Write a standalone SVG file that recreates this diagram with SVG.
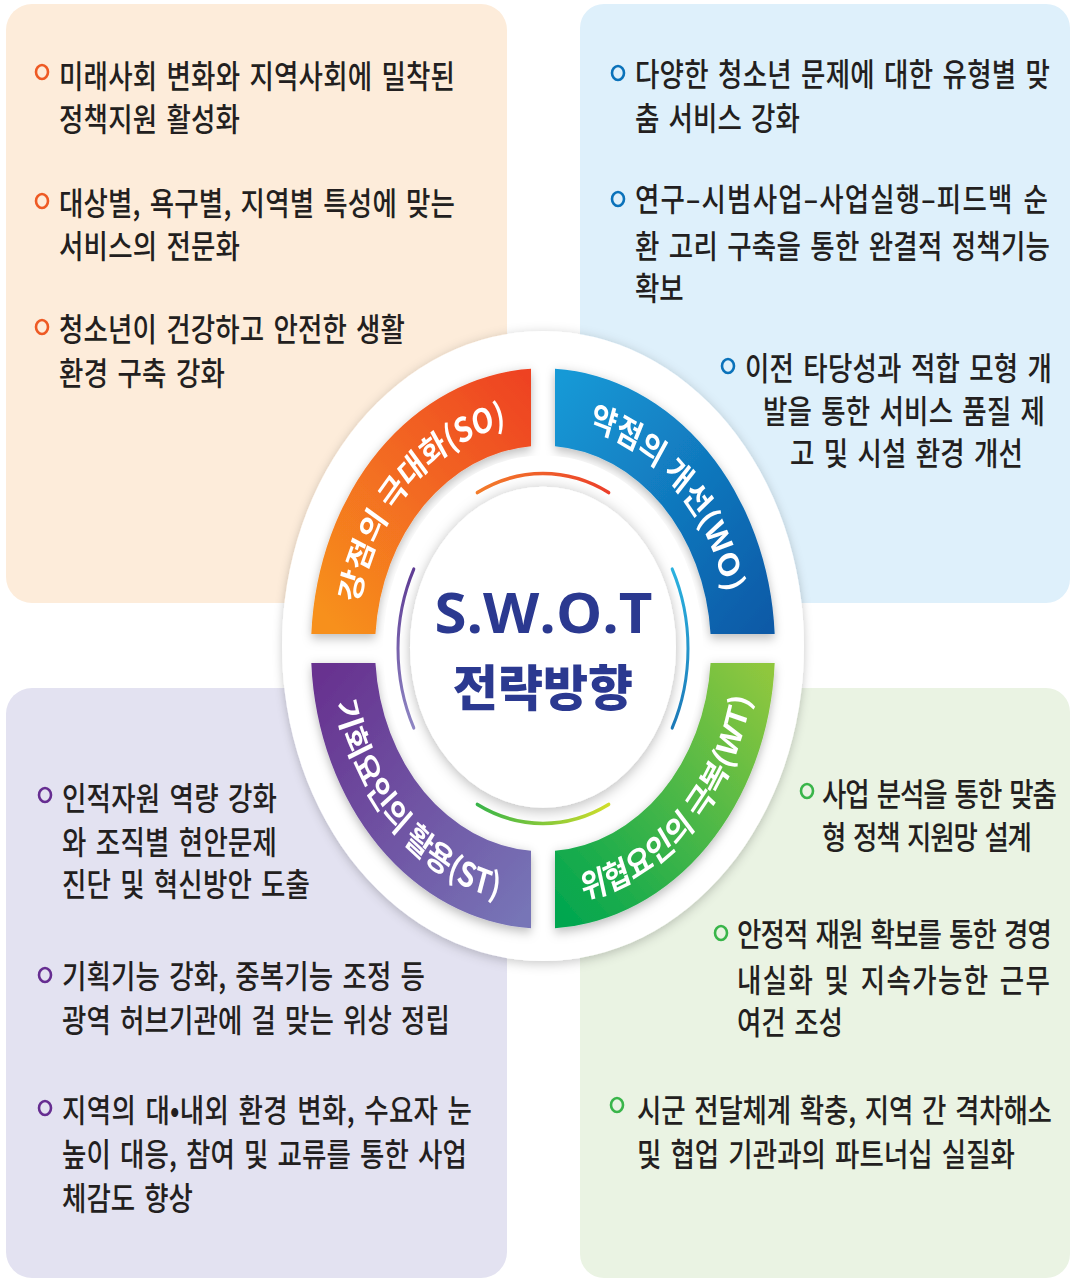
<svg xmlns="http://www.w3.org/2000/svg" width="1071" height="1281" viewBox="0 0 1071 1281">
<style>
.txt{font-family:"Noto Sans CJK KR","Noto Sans",sans-serif;font-size:26.5px;font-weight:500;fill:#231f20;word-spacing:3px}
.seg{font-family:"Noto Sans CJK KR","Noto Sans",sans-serif;font-size:28px;font-weight:700;fill:#ffffff}
.bul{fill:none;stroke-width:2.6}
</style>
<defs>
<filter id="shOuter" x="-20%" y="-20%" width="140%" height="140%"><feDropShadow dx="0" dy="2" stdDeviation="5" flood-color="#000" flood-opacity="0.22"/></filter>
<filter id="shSeg" x="-20%" y="-20%" width="140%" height="140%"><feDropShadow dx="0" dy="3" stdDeviation="5" flood-color="#000" flood-opacity="0.28"/></filter>
<filter id="shInner" x="-20%" y="-20%" width="140%" height="140%"><feDropShadow dx="0" dy="2" stdDeviation="6" flood-color="#000" flood-opacity="0.28"/></filter>
<linearGradient id="gSO" gradientUnits="userSpaceOnUse" x1="-210" y1="-20" x2="-20" y2="-225"><stop offset="0" stop-color="#f7901e"/><stop offset="1" stop-color="#ee4323"/></linearGradient>
<linearGradient id="gWO" gradientUnits="userSpaceOnUse" x1="20" y1="-225" x2="225" y2="-20"><stop offset="0" stop-color="#1799d6"/><stop offset="1" stop-color="#0b5aa7"/></linearGradient>
<linearGradient id="gST" gradientUnits="userSpaceOnUse" x1="-225" y1="20" x2="-20" y2="225"><stop offset="0" stop-color="#67318f"/><stop offset="1" stop-color="#7775b7"/></linearGradient>
<linearGradient id="gWT" gradientUnits="userSpaceOnUse" x1="225" y1="20" x2="20" y2="225"><stop offset="0" stop-color="#8fc73e"/><stop offset="1" stop-color="#00a650"/></linearGradient>
<linearGradient id="aTop" gradientUnits="userSpaceOnUse" x1="-66" y1="0" x2="66" y2="0"><stop offset="0" stop-color="#f47c2a"/><stop offset="1" stop-color="#ec3f2a"/></linearGradient>
<linearGradient id="aLeft" gradientUnits="userSpaceOnUse" x1="0" y1="-66" x2="0" y2="66"><stop offset="0" stop-color="#5e3b94"/><stop offset="1" stop-color="#8f86c4"/></linearGradient>
<linearGradient id="aRight" gradientUnits="userSpaceOnUse" x1="0" y1="-66" x2="0" y2="66"><stop offset="0" stop-color="#2bb3e0"/><stop offset="1" stop-color="#1c79b8"/></linearGradient>
<linearGradient id="aBot" gradientUnits="userSpaceOnUse" x1="-66" y1="0" x2="66" y2="0"><stop offset="0" stop-color="#39b54a"/><stop offset="1" stop-color="#d2df2a"/></linearGradient>
<path id="pSO" d="M -188,0 A 188 188 0 0 1 0,-188"/>
<path id="pWO" d="M 0,-188 A 188 188 0 0 1 188,0"/>
<path id="pST" d="M -212,0 A 212 212 0 0 0 0,212"/>
<path id="pWT" d="M 0,212 A 212 212 0 0 0 212,0"/>
</defs>

<rect width="1071" height="1281" fill="#ffffff"/>

<g id="panel-so">
<rect x="6" y="4" width="501" height="599" rx="26" fill="#fdecda"/>
<ellipse class="bul" cx="42" cy="72" rx="6" ry="7" stroke="#ee5a24"/>
<ellipse class="bul" cx="42" cy="201" rx="6" ry="7" stroke="#ee5a24"/>
<ellipse class="bul" cx="42" cy="327" rx="6" ry="7" stroke="#ee5a24"/>
<g transform="scale(1,1.2)">
<text class="txt" x="59" y="73.33" textLength="396" lengthAdjust="spacing">미래사회 변화와 지역사회에 밀착된</text>
<text class="txt" x="59" y="109.17" textLength="181" lengthAdjust="spacing">정책지원 활성화</text>
<text class="txt" x="59" y="179.17" textLength="396" lengthAdjust="spacing">대상별, 욕구별, 지역별 특성에 맞는</text>
<text class="txt" x="59" y="215" textLength="181" lengthAdjust="spacing">서비스의 전문화</text>
<text class="txt" x="59" y="284.17" textLength="346" lengthAdjust="spacing">청소년이 건강하고 안전한 생활</text>
<text class="txt" x="59" y="320.83" textLength="166" lengthAdjust="spacing">환경 구축 강화</text>
</g>
</g>

<g id="panel-wo">
<rect x="580" y="4" width="490" height="599" rx="24" fill="#def0fb"/>
<ellipse class="bul" cx="618" cy="73" rx="6" ry="7" stroke="#0a72ba"/>
<ellipse class="bul" cx="618" cy="199" rx="6" ry="7" stroke="#0a72ba"/>
<ellipse class="bul" cx="728" cy="366" rx="6" ry="7" stroke="#0a72ba"/>
<g transform="scale(1,1.2)">
<text class="txt" x="635" y="71.67" textLength="415" lengthAdjust="spacing">다양한 청소년 문제에 대한 유형별 맞</text>
<text class="txt" x="635" y="108.33" textLength="165" lengthAdjust="spacing">춤 서비스 강화</text>
<text class="txt" x="635" y="175.83" textLength="413" lengthAdjust="spacing">연구–시범사업–사업실행–피드백 순</text>
<text class="txt" x="635" y="215" textLength="415" lengthAdjust="spacing">환 고리 구축을 통한 완결적 정책기능</text>
<text class="txt" x="635" y="250">확보</text>
<text class="txt" x="745" y="316.67" textLength="307" lengthAdjust="spacing">이전 타당성과 적합 모형 개</text>
<text class="txt" x="763" y="352.5" textLength="282" lengthAdjust="spacing">발을 통한 서비스 품질 제</text>
<text class="txt" x="790" y="387.5" textLength="233" lengthAdjust="spacing">고 및 시설 환경 개선</text>
</g>
</g>

<g id="panel-st">
<rect x="6" y="688" width="501" height="590" rx="26" fill="#e3e2f1"/>
<ellipse class="bul" cx="45" cy="795" rx="6" ry="7" stroke="#662d91"/>
<ellipse class="bul" cx="45" cy="975" rx="6" ry="7" stroke="#662d91"/>
<ellipse class="bul" cx="45" cy="1108" rx="6" ry="7" stroke="#662d91"/>
<g transform="scale(1,1.2)">
<text class="txt" x="62" y="675" textLength="215" lengthAdjust="spacing">인적자원 역량 강화</text>
<text class="txt" x="62" y="711.67" textLength="215" lengthAdjust="spacing">와 조직별 현안문제</text>
<text class="txt" x="62" y="746.67" textLength="248" lengthAdjust="spacing">진단 및 혁신방안 도출</text>
<text class="txt" x="62" y="823.33" textLength="363" lengthAdjust="spacing">기획기능 강화, 중복기능 조정 등</text>
<text class="txt" x="62" y="860" textLength="388" lengthAdjust="spacing">광역 허브기관에 걸 맞는 위상 정립</text>
<text class="txt" x="62" y="935" textLength="410" lengthAdjust="spacing">지역의 대•내외 환경 변화, 수요자 눈</text>
<text class="txt" x="62" y="971.67" textLength="405" lengthAdjust="spacing">높이 대응, 참여 및 교류를 통한 사업</text>
<text class="txt" x="62" y="1008.33" textLength="131" lengthAdjust="spacing">체감도 향상</text>
</g>
</g>

<g id="panel-wt">
<rect x="580" y="688" width="490" height="590" rx="24" fill="#eaf3e3"/>
<ellipse class="bul" cx="807" cy="791" rx="6" ry="7" stroke="#39b54a"/>
<ellipse class="bul" cx="721" cy="933" rx="6" ry="7" stroke="#39b54a"/>
<ellipse class="bul" cx="617" cy="1105" rx="6" ry="7" stroke="#39b54a"/>
<g transform="scale(1,1.2)">
<text class="txt" x="822" y="671.67" textLength="235" lengthAdjust="spacing">사업 분석을 통한 맞춤</text>
<text class="txt" x="822" y="707.5" textLength="210" lengthAdjust="spacing">형 정책 지원망 설계</text>
<text class="txt" x="737" y="788.33" textLength="315" lengthAdjust="spacing">안정적 재원 확보를 통한 경영</text>
<text class="txt" x="737" y="826.67" textLength="313" lengthAdjust="spacing">내실화 및 지속가능한 근무</text>
<text class="txt" x="737" y="861.67" textLength="106" lengthAdjust="spacing">여건 조성</text>
<text class="txt" x="637" y="935" textLength="415" lengthAdjust="spacing">시군 전달체계 확충, 지역 간 격차해소</text>
<text class="txt" x="637" y="971.67" textLength="378" lengthAdjust="spacing">및 협업 기관과의 파트너십 실질화</text>
</g>
</g>

<g id="swot-center" transform="translate(543,648.5) scale(1,1.207)">
<circle cx="0" cy="-2" r="261" fill="#ffffff" filter="url(#shOuter)"/>
<g id="seg-so" filter="url(#shSeg)">
<path d="M -12,-231.69 A 232 232 0 0 0 -231.69,-12 L -167.57,-12 A 168 168 0 0 1 -12,-167.57 Z" fill="url(#gSO)"/>
<text class="seg"><textPath href="#pSO" startOffset="50%" text-anchor="middle">강점의 극대화(SO)</textPath></text>
</g>
<g id="seg-wo" filter="url(#shSeg)">
<path d="M 12,-231.69 A 232 232 0 0 1 231.69,-12 L 167.57,-12 A 168 168 0 0 0 12,-167.57 Z" fill="url(#gWO)"/>
<text class="seg"><textPath href="#pWO" startOffset="50%" text-anchor="middle">약점의 개선(WO)</textPath></text>
</g>
<g id="seg-st" filter="url(#shSeg)">
<path d="M -12,231.69 A 232 232 0 0 1 -231.69,12 L -167.57,12 A 168 168 0 0 0 -12,167.57 Z" fill="url(#gST)"/>
<text class="seg"><textPath href="#pST" startOffset="50%" text-anchor="middle">기회요인의 활용(ST)</textPath></text>
</g>
<g id="seg-wt" filter="url(#shSeg)">
<path d="M 12,231.69 A 232 232 0 0 0 231.69,12 L 167.57,12 A 168 168 0 0 1 12,167.57 Z" fill="url(#gWT)"/>
<text class="seg"><textPath href="#pWT" startOffset="50%" text-anchor="middle">위협요인의 극복(WT)</textPath></text>
</g>
<circle cx="0" cy="0" r="160" fill="#ffffff"/>
<path d="M -65.8,-129.2 A 145 145 0 0 1 65.8,-129.2" fill="none" stroke="url(#aTop)" stroke-width="3" stroke-linecap="round"/>
<path d="M -129.2,-65.8 A 145 145 0 0 0 -129.2,65.8" fill="none" stroke="url(#aLeft)" stroke-width="3" stroke-linecap="round"/>
<path d="M 129.2,-65.8 A 145 145 0 0 1 129.2,65.8" fill="none" stroke="url(#aRight)" stroke-width="3" stroke-linecap="round"/>
<path d="M -65.8,129.2 A 145 145 0 0 0 65.8,129.2" fill="none" stroke="url(#aBot)" stroke-width="3" stroke-linecap="round"/>
<circle cx="0" cy="-1" r="133" fill="#ffffff" filter="url(#shInner)"/>
</g>

<g id="center-title">
<text x="543.5" y="633" text-anchor="middle" textLength="218" lengthAdjust="spacingAndGlyphs" font-family="'Open Sans','Noto Sans',sans-serif" font-size="56" font-weight="700" fill="#2b3990">S.W.O.T</text>
<text x="543" y="706" text-anchor="middle" font-family="'Noto Sans CJK KR',sans-serif" font-size="49" font-weight="900" fill="#2b3990">전략방향</text>
</g>

<g id="connectors"/>
</svg>
